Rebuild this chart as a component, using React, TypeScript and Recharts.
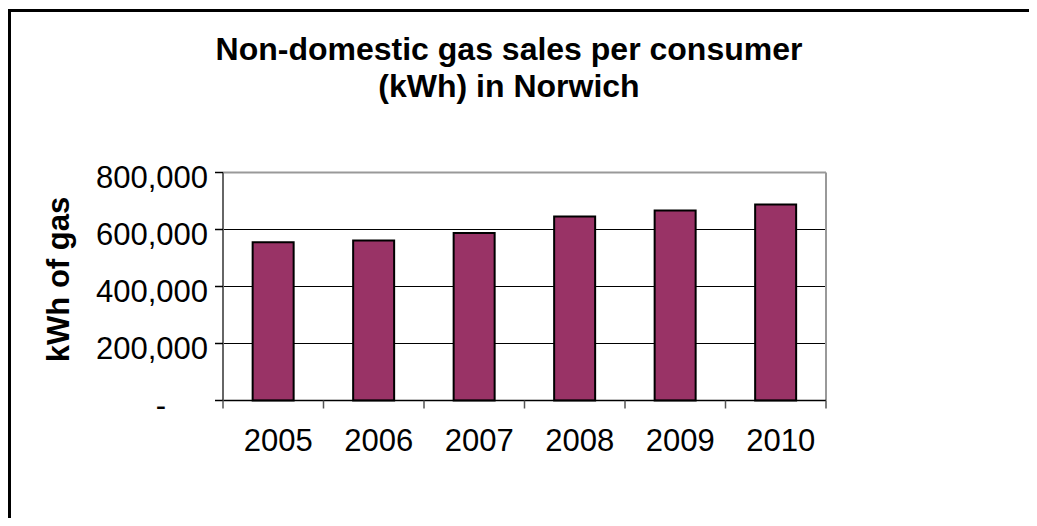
import {
  BarChart,
  Bar,
  XAxis,
  YAxis,
  CartesianGrid,
  ReferenceLine
} from "recharts";

const YEARS = ["2005", "2006", "2007", "2008", "2009", "2010"];
const GAS_PER_CONSUMER = [555000, 561000, 588000, 646000, 667000, 688000];
const Y_TICKS = [0, 200000, 400000, 600000, 800000];

const data = YEARS.map((year, i) => ({ year, gas: GAS_PER_CONSUMER[i] }));

const FONT = '"Liberation Sans", Arial, sans-serif';

const YTick = ({ x, y, payload }: any) => {
  const v = payload.value;
  if (v === 0) {
    return (
      <text x={x - 42} y={y} dy={15} textAnchor="end" fontSize={31} fill="#000">
        -
      </text>
    );
  }
  return (
    <text x={x} y={y} dy={15} textAnchor="end" fontSize={31} fill="#000">
      {v.toLocaleString("en-US")}
    </text>
  );
};

// category ticks: marks sit on the category boundaries, labels in the middle
const XTick = ({ x, y, payload, index, visibleTicksCount }: any) => {
  const half = payload.offset || 0;
  const last = index === visibleTicksCount - 1;
  return (
    <g>
      <line x1={x - half} x2={x - half} y1={y} y2={y + 8} stroke="#555" strokeWidth={1.5} />
      {last && (
        <line x1={x + half} x2={x + half} y1={y} y2={y + 8} stroke="#555" strokeWidth={1.5} />
      )}
      <text x={x + 5} y={y + 28} dy="0.71em" textAnchor="middle" fontSize={31} fill="#000">
        {payload.value}
      </text>
    </g>
  );
};

const YLabel = ({ viewBox }: any) => {
  const cx = viewBox.x + 50;
  const cy = viewBox.y + viewBox.height / 2 - 7;
  return (
    <text
      x={cx}
      y={cy}
      transform={`rotate(-90, ${cx}, ${cy})`}
      textAnchor="middle"
      dominantBaseline="central"
      fontSize={31}
      fontWeight="bold"
      fill="#000"
    >
      kWh of gas
    </text>
  );
};

export default function App() {
  return (
    <div
      style={{
        position: "relative",
        width: 1021,
        height: 510,
        overflow: "hidden",
        fontFamily: FONT,
        background: "#fff"
      }}
    >
      <div
        style={{
          position: "absolute",
          left: 0,
          top: 1,
          width: 1200,
          height: 700,
          border: "3px solid #000",
          boxSizing: "border-box"
        }}
      />
      <div
        style={{
          position: "absolute",
          left: 0,
          top: 23,
          width: 1002,
          textAlign: "center",
          fontSize: 32,
          fontWeight: "bold",
          lineHeight: "37px",
          color: "#000"
        }}
      >
        Non-domestic gas sales per consumer
        <br />
        (kWh) in Norwich
      </div>
      <BarChart
        width={1021}
        height={510}
        data={data}
        margin={{ top: 164.5, right: 203, left: 0, bottom: 0 }}
        barCategoryGap="29.5%"
        style={{ position: "absolute", left: 0, top: 0 }}
      >
        <CartesianGrid vertical={false} stroke="#000" strokeWidth={1} />
        <XAxis
          dataKey="year"
          tickLine={false}
          tickSize={0}
          tickMargin={0}
          axisLine={{ stroke: "#000", strokeWidth: 1.5 }}
          tick={<XTick />}
          interval={0}
          height={117.5}
        />
        <YAxis
          width={215}
          domain={[0, 800000]}
          ticks={Y_TICKS}
          tickSize={8}
          tickMargin={7}
          tickLine={{ stroke: "#000", strokeWidth: 1.5 }}
          axisLine={{ stroke: "#666", strokeWidth: 2 }}
          tick={<YTick />}
          label={<YLabel />}
        />
        <ReferenceLine y={800000} stroke="#999" strokeWidth={2} />
        <ReferenceLine x="2010" position="end" stroke="#999" strokeWidth={2} />
        <Bar
          dataKey="gas"
          fill="#993366"
          stroke="#000"
          strokeWidth={2}
          isAnimationActive={false}
        />
      </BarChart>
    </div>
  );
}
